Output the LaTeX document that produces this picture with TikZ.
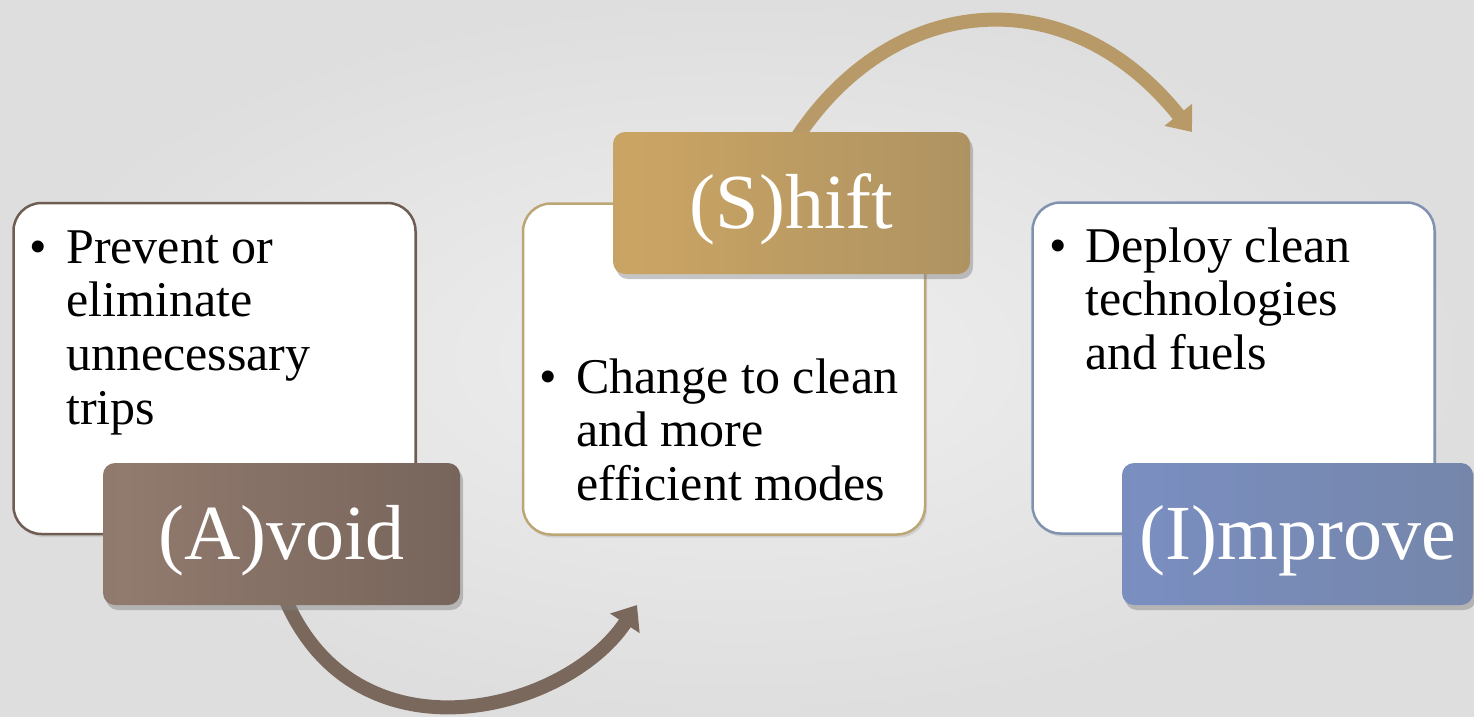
\documentclass[tikz,border=0pt]{standalone}
\usepackage{fontspec}
\setmainfont{Liberation Serif}
\usetikzlibrary{arrows.meta,shadows}
\definecolor{bgin}{HTML}{EFEFEF}
\definecolor{bgout}{HTML}{DEDEDE}
\definecolor{avE}{HTML}{84705F}
\definecolor{avL}{HTML}{917A6E}
\definecolor{avR}{HTML}{695950}
\definecolor{avB}{HTML}{6F5D53}
\definecolor{avA}{HTML}{7B685D}
\definecolor{shE}{HTML}{B99C68}
\definecolor{shL}{HTML}{CAA463}
\definecolor{shR}{HTML}{9F8A62}
\definecolor{shB}{HTML}{BDA676}
\definecolor{shA}{HTML}{B89A68}
\definecolor{imE}{HTML}{7787B0}
\definecolor{imL}{HTML}{7A8EC0}
\definecolor{imR}{HTML}{72829E}
\definecolor{imB}{HTML}{8192B0}
\pgfdeclarehorizontalshading{avsh}{100bp}{color(0bp)=(avE); color(28bp)=(avL); color(100bp)=(avR)}
\pgfdeclarehorizontalshading{shsh}{100bp}{color(0bp)=(shE); color(28bp)=(shL); color(100bp)=(shR)}
\pgfdeclarehorizontalshading{imsh}{100bp}{color(0bp)=(imE); color(28bp)=(imL); color(100bp)=(imR)}
\pgfdeclarelayer{bg}
\pgfsetlayers{bg,main}
\tikzset{
  card/.style={draw, line width=2.5pt, fill=white, rounded corners=28pt, inner sep=0pt,
    minimum width=402pt, minimum height=331pt,
    drop shadow={shadow xshift=2pt, shadow yshift=-3pt, opacity=0.22}},
  lbl/.style={rounded corners=12pt, inner sep=0pt, text=white,
    font=\fontsize{78}{90}\selectfont, text height=60pt, text depth=10pt,
    minimum height=142pt,
    drop shadow={shadow xshift=3pt, shadow yshift=-5pt, opacity=0.45}},
  bodytxt/.style={inner sep=0pt, anchor=base west, font=\fontsize{50}{53.7}\selectfont},
  arr/.style={line width=14pt, -{Triangle[width=34pt,length=22pt]}}
}
\begin{document}
\begin{tikzpicture}[x=1pt,y=-1pt]
\useasboundingbox (0,0) rectangle (1474,716);
\begin{pgfonlayer}{bg}
\fill[inner color=bgin, outer color=bgout] (0,0) rectangle (1474,716);
\end{pgfonlayer}

% cards
\node[card, draw=avB] (avcard) at (214.5,368.5) {};
\node[card, draw=shB] (shcard) at (724,369) {};
\node[card, draw=imB] (imcard) at (1233.5,368) {};

% labels
\node[lbl, minimum width=357pt, shading=avsh] (avlbl) at (281.5,534) {(A)void};
\node[lbl, minimum width=357pt, shading=shsh] (shlbl) at (791.5,203) {(S)hift};
\node[lbl, minimum width=351pt, shading=imsh] (imlbl) at (1297.5,534) {(I)mprove};

% texts
\node[bodytxt] (avb) at (29,263) {\textbullet};
\node[bodytxt] (avt) at (66,263) {\begin{tabular}[t]{@{}l@{}}Prevent or\\eliminate\\unnecessary\\trips\end{tabular}};
\node[bodytxt] (shb) at (539,393) {\textbullet};
\node[bodytxt] (sht) at (576,393) {\begin{tabular}[t]{@{}l@{}}Change to clean\\and more\\efficient modes\end{tabular}};
\node[bodytxt] (imb) at (1049,262) {\textbullet};
\node[bodytxt] (imt) at (1085,262) {\begin{tabular}[t]{@{}l@{}}Deploy clean\\technologies\\and fuels\end{tabular}};

% arrows
\coordinate (a1) at (637,605);
\coordinate (i1) at (1192,132);
\begin{pgfonlayer}{bg}
\draw[arr, draw=avA] ([xshift=3pt,yshift=8pt]avlbl.south) .. controls (356,767) and (566,712) .. (a1);
\draw[arr, draw=shA] ([xshift=4pt,yshift=-8pt]shlbl.north) .. controls (894,-11) and (1070,-21) .. (i1);
\end{pgfonlayer}
\end{tikzpicture}
\end{document}
